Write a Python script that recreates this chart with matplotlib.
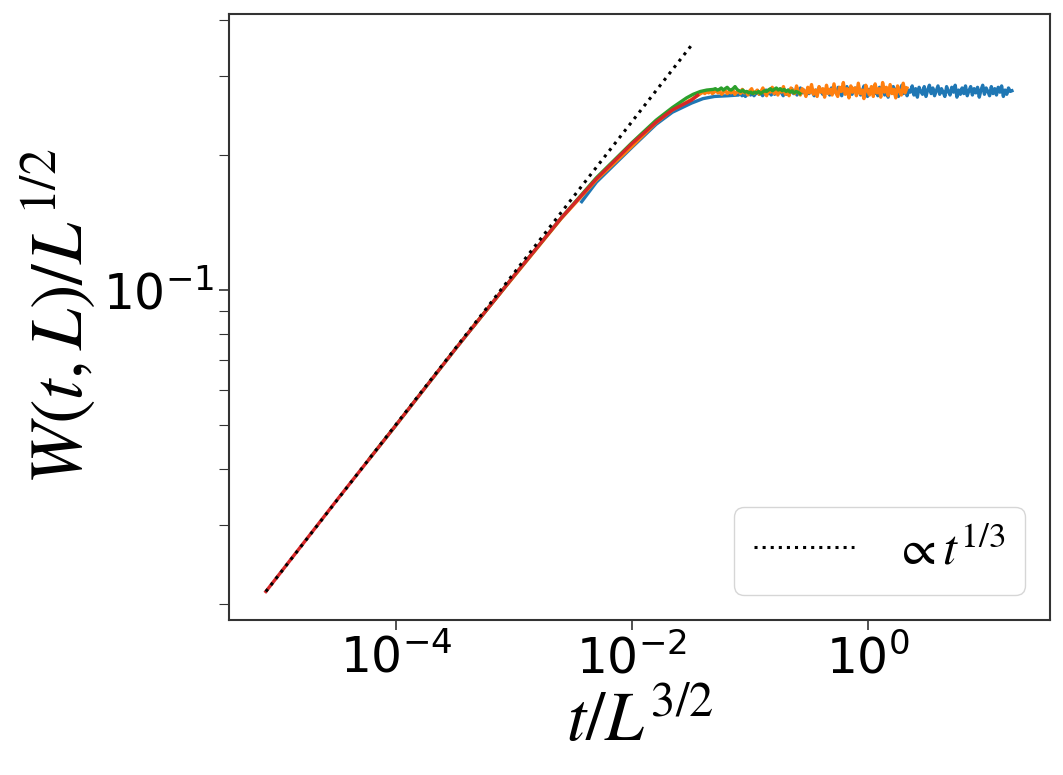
"""Width scaling collapse W(t,L)/L^{1/2} vs t/L^{3/2}"""

import numpy as np
import matplotlib
matplotlib.use("Agg")
import matplotlib.pyplot as plt

# rising part of each curve: (t/L^{3/2}, W/L^{1/2})
red_x = [7.9e-6, 3.2e-5, 1.0e-4, 3.2e-4, 1.0e-3, 2.5e-3, 5.0e-3, 1.0e-2, 1.6e-2, 2.2e-2, 3.2e-2, 3.6e-2]
red_y = [0.0213, 0.0342, 0.0500, 0.0740, 0.1076, 0.1445, 0.177, 0.212, 0.2366, 0.252, 0.265, 0.2716]

green_x = [6.0e-5, 1.0e-4, 3.2e-4, 1.0e-3, 2.5e-3, 5.0e-3, 1.0e-2, 1.6e-2, 2.2e-2, 2.9e-2, 3.3e-2, 3.8e-2, 4.3e-2]
green_y = [0.0422, 0.0500, 0.0740, 0.1076, 0.1445, 0.178, 0.213, 0.239, 0.255, 0.268, 0.273, 0.277, 0.279]

orange_x = [4.5e-4, 1.0e-3, 2.5e-3, 5.0e-3, 1.0e-2, 1.6e-2, 2.2e-2, 3.2e-2]
orange_y = [0.0829, 0.1072, 0.144, 0.176, 0.209, 0.236, 0.252, 0.266]

blue_x = [3.75e-3, 5.0e-3, 1.0e-2, 1.6e-2, 2.2e-2, 3.2e-2, 4.0e-2, 5.0e-2, 6.5e-2]
blue_y = [0.1574, 0.174, 0.208, 0.234, 0.249, 0.261, 0.267, 0.270, 0.271]

# saturated (noisy) part: range in t/L^{3/2} and the values read along it
green_sat_range = (4.9e-2, 0.265)
green_sat = [0.280, 0.281, 0.279, 0.280, 0.282, 0.279, 0.281, 0.283, 0.280, 0.279,
             0.281, 0.284, 0.280, 0.278, 0.277, 0.279, 0.276, 0.277, 0.275, 0.276,
             0.274, 0.276, 0.275, 0.277, 0.274, 0.276, 0.278, 0.277, 0.279, 0.281,
             0.278, 0.280, 0.282, 0.279, 0.281, 0.278, 0.280, 0.277, 0.279, 0.276,
             0.278, 0.275, 0.277, 0.276, 0.274]

orange_sat_range = (4.0e-2, 2.14)
orange_sat = [0.276, 0.274, 0.277, 0.275, 0.278, 0.274, 0.276, 0.279, 0.275, 0.277,
              0.273, 0.276, 0.278, 0.274, 0.277, 0.275, 0.279, 0.273, 0.276, 0.278,
              0.274, 0.280, 0.275, 0.277, 0.272, 0.278, 0.281, 0.274, 0.276, 0.279,
              0.273, 0.277, 0.282, 0.275, 0.271, 0.279, 0.276, 0.283, 0.274, 0.278,
              0.272, 0.280, 0.276, 0.284, 0.273, 0.278, 0.271, 0.282, 0.277, 0.274,
              0.285, 0.276, 0.272, 0.281, 0.278, 0.270, 0.283, 0.275, 0.287, 0.273,
              0.279, 0.270, 0.284, 0.276, 0.281, 0.269, 0.286, 0.274, 0.280, 0.272,
              0.288, 0.275, 0.270, 0.283, 0.277, 0.290, 0.273, 0.281, 0.268, 0.285,
              0.276, 0.282, 0.271, 0.289, 0.274, 0.279, 0.267, 0.286, 0.278, 0.272,
              0.284, 0.270, 0.288, 0.275, 0.281, 0.269, 0.290, 0.276, 0.283, 0.271,
              0.287, 0.274, 0.280, 0.268, 0.285, 0.277, 0.272, 0.289, 0.275, 0.282]

blue_sat_range = (8.0e-2, 16.6)
blue_sat = [0.272, 0.275, 0.271, 0.274, 0.270, 0.273, 0.276, 0.272, 0.275, 0.271,
            0.274, 0.278, 0.273, 0.276, 0.271, 0.275, 0.279, 0.274, 0.277, 0.272,
            0.276, 0.273, 0.278, 0.274, 0.280, 0.275, 0.271, 0.277, 0.273, 0.279,
            0.275, 0.281, 0.274, 0.278, 0.272, 0.277, 0.282, 0.275, 0.279, 0.273,
            0.278, 0.274, 0.281, 0.276, 0.271, 0.279, 0.275, 0.283, 0.277, 0.273,
            0.280, 0.275, 0.278, 0.272, 0.282, 0.276, 0.279, 0.274, 0.283, 0.277,
            0.271, 0.279, 0.276, 0.284, 0.274, 0.280, 0.273, 0.278, 0.282, 0.275,
            0.281, 0.272, 0.278, 0.285, 0.276, 0.270, 0.280, 0.277, 0.283, 0.274,
            0.279, 0.271, 0.283, 0.276, 0.285, 0.272, 0.279, 0.269, 0.282, 0.276,
            0.284, 0.273, 0.281, 0.270, 0.278, 0.286, 0.274, 0.282, 0.271, 0.279,
            0.276, 0.285, 0.272, 0.281, 0.269, 0.283, 0.277, 0.273, 0.284, 0.270,
            0.279, 0.286, 0.274, 0.282, 0.271, 0.278, 0.285, 0.273, 0.281, 0.276,
            0.270, 0.284, 0.277, 0.272, 0.283, 0.276, 0.286, 0.269, 0.279, 0.273,
            0.282, 0.274, 0.285, 0.271, 0.278, 0.284, 0.272, 0.281, 0.275, 0.283,
            0.269, 0.279, 0.286, 0.273, 0.282, 0.277, 0.271, 0.284, 0.274, 0.281,
            0.272, 0.283, 0.276, 0.285, 0.270, 0.279, 0.273, 0.282, 0.277, 0.278]

# t^{1/3} guide line end points
guide_x = [7.9e-6, 3.3e-2]
guide_y = [0.0213, 0.355]


def full_curve(rise_x, rise_y, sat_range, sat):
    sat_x = np.geomspace(sat_range[0], sat_range[1], len(sat))
    return np.concatenate([rise_x, sat_x]), np.concatenate([rise_y, sat])


fig = plt.figure(figsize=(10.63, 7.75), dpi=100)
ax = fig.add_axes([0.2154, 0.2006, 0.7723, 0.7813])

lw = 2.4
x, y = full_curve(blue_x, blue_y, blue_sat_range, blue_sat)
ax.plot(x, y, color='#1f77b4', lw=lw)
x, y = full_curve(orange_x, orange_y, orange_sat_range, orange_sat)
ax.plot(x, y, color='#ff7f0e', lw=lw)
x, y = full_curve(green_x, green_y, green_sat_range, green_sat)
ax.plot(x, y, color='#2ca02c', lw=lw)
ax.plot(red_x, red_y, color='#d62728', lw=lw)

ax.plot(guide_x, guide_y, ':', color='black', lw=2.2, label=r'$\propto t^{1/3}$')

ax.set_xscale('log')
ax.set_yscale('log')
ax.set_xlim(10**-5.415, 10**1.542)
ax.set_ylim(10**-1.734, 10**-0.385)

for side in ax.spines.values():
    side.set_color('#333333')
    side.set_linewidth(1.5)
ax.tick_params(which='both', direction='out', length=7.2, color='#333333', labelsize=35)
ax.tick_params(which='major', width=1.2)
ax.tick_params(which='minor', width=0.8)

ax.set_xlabel(r'$t/L^{3/2}$', fontsize=50, math_fontfamily='stix')
ax.set_ylabel(r'$W(t,L)/L^{1/2}$', fontsize=53, math_fontfamily='stix')

leg = ax.legend(loc='lower right', fontsize=36)
for txt in leg.get_texts():
    txt.set_math_fontfamily('stix')

fig.savefig('out.png', dpi=100)
